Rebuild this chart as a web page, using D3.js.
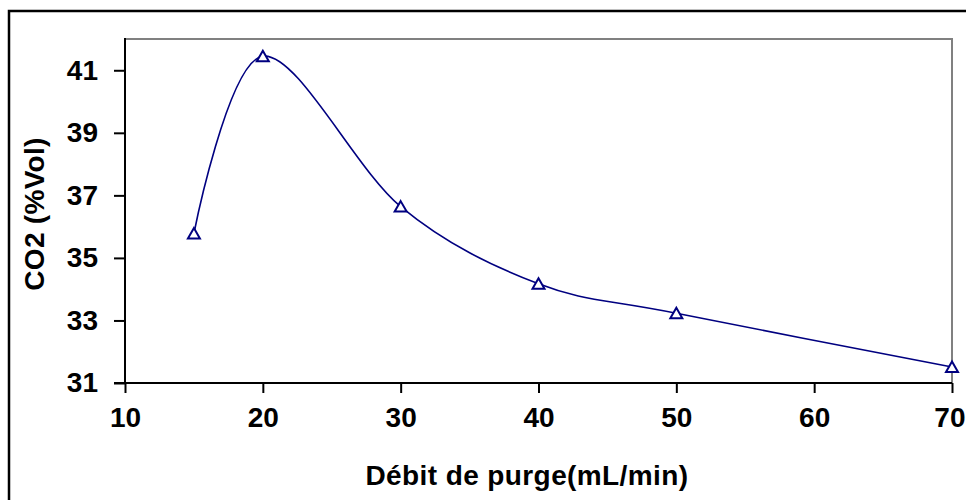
<!DOCTYPE html>
<html>
<head>
<meta charset="utf-8">
<script src="https://cdn.jsdelivr.net/npm/d3@7"></script>
<style>
  html, body { margin: 0; padding: 0; background: #fff; }
  svg { display: block; }
  text { font-family: "Liberation Sans", Arial, sans-serif; font-weight: bold; fill: #000; }
</style>
</head>
<body>
<svg id="chart" width="966" height="500"></svg>
<script>
const debit = [15, 20, 30, 40, 50, 70];
const co2 = [35.78, 41.45, 36.64, 34.17, 33.23, 31.51];
const xTicks = [10, 20, 30, 40, 50, 60, 70];
const yTicks = [31, 33, 35, 37, 39, 41];
const xTitle = "Débit de purge(mL/min)";
const yTitle = "CO2 (%Vol)";

const svg = d3.select("#chart");
const W = 966, H = 500;
const plot = { left: 125, right: 952, top: 39, bottom: 383 };

svg.append("rect").attr("width", W).attr("height", H).attr("fill", "#fff");
// outer chart border
svg.append("rect").attr("x", 9).attr("y", 11).attr("width", 1000).attr("height", 600)
  .attr("fill", "none").attr("stroke", "#000").attr("stroke-width", 2.5);

const x = d3.scaleLinear().domain([10, 70]).range([plot.left, plot.right]);
const y = d3.scaleLinear().domain([31, 42]).range([plot.bottom, plot.top]);

// plot area border (gray top/right)
svg.append("path")
  .attr("d", `M${plot.left},${plot.top}H${plot.right}V${plot.bottom}`)
  .attr("fill", "none").attr("stroke", "#808080").attr("stroke-width", 2);

// y axis
const yAxis = svg.append("g").attr("transform", `translate(${plot.left},0)`)
  .call(d3.axisLeft(y).tickValues(yTicks).tickSize(11).tickPadding(16).tickSizeOuter(0));
yAxis.select(".domain").attr("stroke", "#000").attr("stroke-width", 2)
  .attr("d", `M0,${plot.bottom + 1}V${plot.top - 1}`);
yAxis.selectAll(".tick line").attr("stroke", "#000").attr("stroke-width", 2);
yAxis.selectAll(".tick text").attr("font-size", 28).attr("font-family", "Liberation Sans, Arial, sans-serif")
  .attr("font-weight", "bold").attr("fill", "#000");

// x axis
const xAxis = svg.append("g").attr("transform", `translate(0,${plot.bottom})`)
  .call(d3.axisBottom(x).tickValues(xTicks).tickSize(10).tickPadding(14).tickSizeOuter(0));
xAxis.select(".domain").attr("stroke", "#000").attr("stroke-width", 2)
  .attr("d", `M${plot.left - 11},0H${plot.right}`);
xAxis.selectAll(".tick line").attr("stroke", "#000").attr("stroke-width", 2);
xAxis.selectAll(".tick text").attr("font-size", 28).attr("font-family", "Liberation Sans, Arial, sans-serif")
  .attr("font-weight", "bold").attr("fill", "#000");
// keep the last label inside the window
xAxis.selectAll(".tick text").filter(d => d === 70).attr("text-anchor", "end").attr("x", 13);

// smoothed line
const pts = debit.map((d, i) => [x(d), y(co2[i])]);
svg.append("path")
  .attr("d", d3.line().curve(d3.curveCardinal.tension(0))(pts))
  .attr("fill", "none").attr("stroke", "#000080").attr("stroke-width", 1.6);

// triangle markers
svg.selectAll(".mk").data(pts).enter().append("path")
  .attr("class", "mk")
  .attr("transform", d => `translate(${d[0]},${d[1]})`)
  .attr("d", "M0,-5.5L6,5L-6,5Z")
  .attr("fill", "#fff").attr("stroke", "#000080").attr("stroke-width", 2);

// titles
svg.append("text").attr("x", 527).attr("y", 485).attr("text-anchor", "middle")
  .attr("font-size", 28).attr("letter-spacing", 0.4).text(xTitle);
svg.append("text").attr("transform", "translate(44,214) rotate(-90)").attr("text-anchor", "middle")
  .attr("font-size", 28).attr("letter-spacing", 0.3).text(yTitle);
</script>
</body>
</html>
